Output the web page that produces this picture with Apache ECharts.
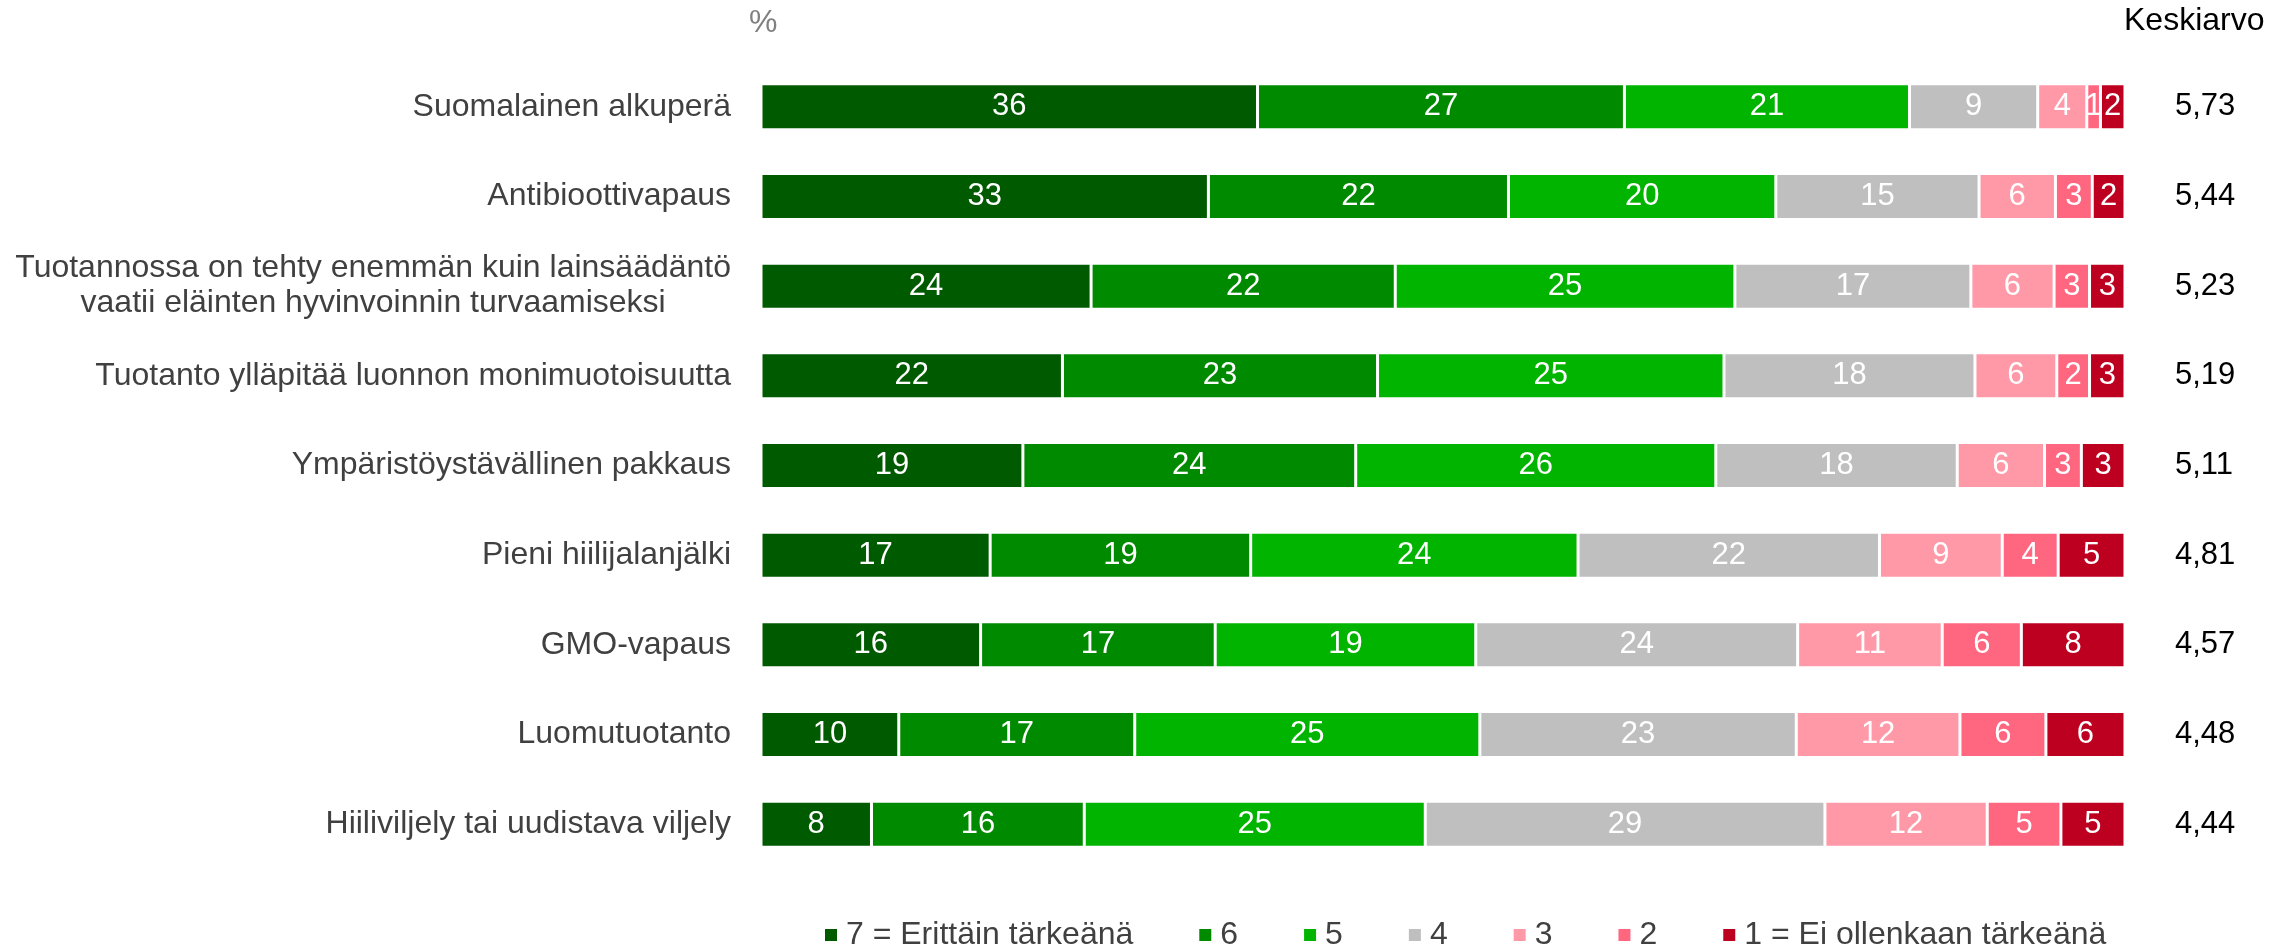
<!DOCTYPE html>
<html>
<head>
<meta charset="utf-8">
<script src="https://cdn.jsdelivr.net/npm/echarts@6/dist/echarts.min.js"></script>
<style>html,body{margin:0;padding:0;background:#fff}#c{width:2285px;height:950px}</style>
</head>
<body>
<div id="c"></div>
<script>
const categories = [
  "Suomalainen alkuperä",
  "Antibioottivapaus",
  "Tuotannossa on tehty enemmän kuin lainsäädäntö\nvaatii eläinten hyvinvoinnin turvaamiseksi",
  "Tuotanto ylläpitää luonnon monimuotoisuutta",
  "Ympäristöystävällinen pakkaus",
  "Pieni hiilijalanjälki",
  "GMO-vapaus",
  "Luomutuotanto",
  "Hiiliviljely tai uudistava viljely"
];
const seriesNames = ["7 = Erittäin tärkeänä", "6", "5", "4", "3", "2", "1 = Ei ollenkaan tärkeänä"];
const s7 = [36.4, 32.8, 24.2, 22.1, 19.2, 16.8, 16.1, 10.1, 8.1];
const s6 = [26.9, 22.0, 22.3, 23.1, 24.4, 19.1, 17.2, 17.3, 15.6];
const s5 = [20.9, 19.6, 24.9, 25.4, 26.4, 24.0, 19.1, 25.3, 25.0];
const s4 = [9.4, 14.9, 17.3, 18.4, 17.7, 22.1, 23.6, 23.2, 29.3];
const s3 = [3.6, 5.6, 6.1, 6.0, 6.4, 9.0, 10.6, 12.0, 11.9];
const s2 = [1.0, 2.7, 2.6, 2.4, 2.7, 4.1, 5.8, 6.3, 5.4];
const s1 = [1.8, 2.4, 2.6, 2.6, 3.2, 4.9, 7.6, 5.8, 4.7];
const means = [5.73, 5.44, 5.23, 5.19, 5.11, 4.81, 4.57, 4.48, 4.44];
const colors = ["#005a00", "#008a00", "#00b400", "#bfbfbf", "#ff99a8", "#ff6680", "#bd0020"];
const seriesData = [s7, s6, s5, s4, s3, s2, s1];

const FONT = "Liberation Sans, Arial, sans-serif";
const chart = echarts.init(document.getElementById('c'), null, {renderer: 'canvas'});
const option = {
  animation: false,
  backgroundColor: '#ffffff',
  textStyle: {fontFamily: FONT},
  title: [
    {text: '%', left: 744, top: 2, textStyle: {fontFamily: FONT, fontSize: 32, fontWeight: 'normal', color: '#808080'}},
    {text: 'Keskiarvo', left: 2119, top: 0, textStyle: {fontFamily: FONT, fontSize: 32, fontWeight: 'normal', color: '#000000'}}
  ],
  legend: {
    data: seriesNames,
    top: 914,
    left: 818,
    itemGap: 64,
    itemWidth: 14,
    itemHeight: 14,
    icon: 'rect',
    textStyle: {fontFamily: FONT, fontSize: 32, color: '#404040', padding: [0, 0, 0, 3]}
  },
  grid: {left: 761, right: 160, top: 62, bottom: 81, containLabel: false},
  xAxis: {
    type: 'value', min: 0, max: 100,
    show: false
  },
  yAxis: [
    {
      type: 'category', data: categories, inverse: true,
      axisLine: {show: false}, axisTick: {show: false},
      axisLabel: {
        margin: 30,
        fontFamily: FONT, fontSize: 32, color: '#404040', lineHeight: 35,
        formatter: function (v) { return v.split('\n').map(function (l) { return '{c|' + l + '}'; }).join('\n'); },
        rich: {c: {fontFamily: FONT, fontSize: 32, color: '#404040', lineHeight: 35, align: 'center'}}
      }
    },
    {
      type: 'category', data: means.map(function (m) { return m.toFixed(2).replace('.', ','); }),
      inverse: true, position: 'right',
      axisLine: {show: false}, axisTick: {show: false},
      axisLabel: {margin: 50, fontFamily: FONT, fontSize: 31, color: '#000000'}
    }
  ],
  series: seriesData.map(function (d, i) {
    return {
      name: seriesNames[i],
      type: 'bar',
      stack: 'total',
      barWidth: 46,
      data: d,
      itemStyle: {color: colors[i], borderColor: '#ffffff', borderWidth: 1.5},
      label: {
        show: true, position: 'inside', color: '#ffffff',
        fontFamily: FONT, fontSize: 31,
        formatter: function (p) { return String(Math.round(p.value)); }
      }
    };
  })
};
chart.setOption(option);
</script>
</body>
</html>
